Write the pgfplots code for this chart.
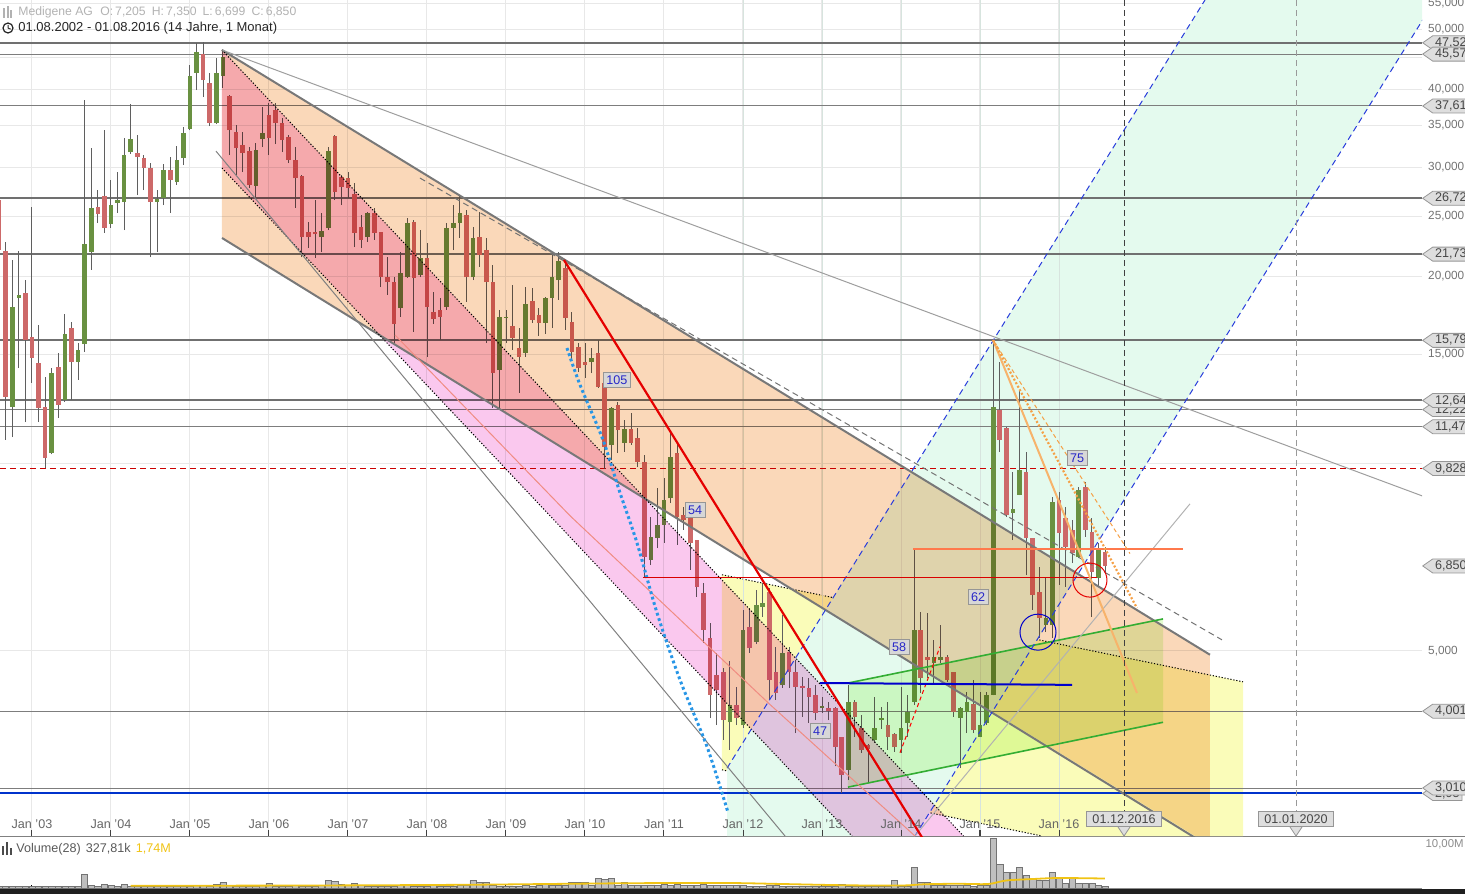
\documentclass[border=0pt]{standalone}
\usepackage{fontspec}
\setmainfont{Liberation Sans}
\usepackage{pgfplots}
\pgfplotsset{compat=1.18}
\usepackage{pgfplotstable}
\usetikzlibrary{shapes.symbols}

\definecolor{upc}{RGB}{105,145,65}
\definecolor{dnc}{RGB}{205,105,105}
\definecolor{wick}{RGB}{95,95,95}
\definecolor{peach}{RGB}{250,216,185}
\definecolor{pinkc}{RGB}{250,200,238}
\definecolor{mint}{RGB}{228,250,238}
\definecolor{yel}{RGB}{250,252,185}
\definecolor{lime}{RGB}{228,252,208}
\definecolor{lvl}{RGB}{112,112,112}
\definecolor{lvlt}{RGB}{125,125,125}
\definecolor{tagfill}{RGB}{222,222,222}
\definecolor{tagdraw}{RGB}{150,150,150}
\definecolor{tagtext}{RGB}{70,70,70}
\definecolor{numblue}{RGB}{40,40,200}
\definecolor{numfill}{RGB}{215,215,215}
\definecolor{dashblue}{RGB}{40,60,220}
\definecolor{lblue}{RGB}{40,150,230}
\definecolor{orng}{RGB}{245,160,70}
\definecolor{gridc}{RGB}{232,232,232}
\definecolor{gridz}{RGB}{215,228,222}
\definecolor{yline}{RGB}{240,195,20}
\definecolor{chan}{RGB}{120,120,120}
\definecolor{salmon}{RGB}{240,140,130}

\newcommand\tf{\fontsize{6.3}{7.5}\selectfont}

% monthly candles, up (close >= open)
\pgfplotstableread{
x o h l c
2002.750 12.35 21.26 11.04 17.87
2002.833 18.50 21.98 14.25 18.70
2003.250 10.41 14.25 10.35 13.99
2003.417 12.67 17.42 12.58 16.17
2003.583 14.58 15.63 13.64 15.24
2003.667 15.58 38.44 15.13 22.56
2003.750 21.90 32.18 20.49 25.78
2004.000 24.29 28.59 23.94 26.06
2004.083 26.26 29.45 25.31 26.55
2004.167 26.36 33.40 23.76 31.35
2004.250 31.70 37.87 31.50 33.27
2004.583 26.36 27.55 21.90 26.65
2004.667 26.75 30.34 26.06 29.67
2004.833 28.38 32.41 28.07 30.79
2004.917 31.00 34.78 30.22 34.02
2005.000 34.53 43.77 34.40 42.03
2005.083 42.50 47.55 39.90 45.90
2005.333 35.30 44.92 35.20 42.50
2005.417 42.03 46.27 40.20 45.09
2005.833 27.97 32.77 26.85 31.94
2005.917 33.27 37.46 32.30 34.02
2006.667 23.15 25.31 21.90 23.67
2006.750 23.94 32.30 23.76 31.82
2007.250 23.15 25.40 22.73 25.31
2007.667 17.80 21.90 17.22 20.26
2007.750 19.96 24.84 19.90 24.38
2007.917 20.11 23.76 19.96 21.42
2008.250 17.87 24.38 17.67 23.94
2008.333 23.94 26.06 22.06 24.38
2008.417 24.38 27.04 23.07 25.31
2008.583 19.96 24.02 19.74 23.07
2008.917 14.15 17.67 12.21 17.22
2009.000 17.16 17.67 15.63 17.22
2009.250 15.07 19.24 14.85 18.07
2009.500 16.84 18.55 16.17 18.48
2009.583 18.48 21.66 16.53 19.96
2009.667 19.74 21.90 18.34 21.18
2010.083 14.58 15.35 13.99 14.80
2010.333 10.72 12.35 10.14 12.30
2010.500 10.80 11.76 10.45 11.37
2010.833 7.00 8.21 6.87 7.62
2010.917 7.60 9.15 7.32 7.98
2011.000 7.98 9.49 7.46 8.74
2011.083 8.80 11.25 8.64 10.25
2011.833 3.84 4.81 3.47 4.09
2012.000 3.80 5.82 3.76 5.40
2012.167 5.17 6.27 5.13 5.93
2012.250 5.89 6.43 5.67 5.98
2012.500 4.41 5.71 4.36 4.97
2013.000 4.05 4.22 3.98 4.08
2013.333 3.22 4.41 3.10 4.14
2013.667 3.60 4.22 3.56 3.76
2013.750 3.87 4.06 3.75 3.90
2014.000 3.60 4.38 3.43 3.76
2014.083 3.83 4.25 3.64 3.99
2014.167 4.14 7.27 4.09 5.40
2014.417 4.79 5.21 4.44 4.89
2014.500 4.84 5.50 4.79 4.89
2014.750 3.90 4.06 3.24 4.05
2014.833 3.99 4.30 3.69 4.14
2015.000 3.64 4.30 3.63 3.80
2015.083 3.83 4.30 3.80 4.25
2015.167 4.25 15.70 4.24 12.35
2015.417 8.33 9.70 7.54 8.46
2015.500 8.91 13.14 8.90 9.77
2015.833 5.50 6.57 5.36 5.65
2015.917 5.50 8.84 5.25 8.67
2016.250 7.08 9.18 7.05 9.08
2016.500 6.55 7.46 6.34 7.32
}\candup

% monthly candles, down (close < open)
\pgfplotstableread{
x o h l c
2002.583 26.55 28.90 18.34 22.06
2002.667 21.98 22.73 10.92 12.81
2002.917 18.82 19.74 11.67 15.81
2003.000 15.99 25.87 13.49 14.80
2003.083 14.53 16.72 11.67 12.30
2003.167 12.35 13.79 9.83 10.22
2003.333 14.31 15.07 11.85 12.44
2003.500 16.53 16.90 12.67 14.58
2003.833 25.87 27.55 24.38 25.21
2003.917 26.96 34.40 23.50 23.94
2004.333 31.59 33.76 27.04 31.12
2004.417 31.00 31.35 27.55 29.89
2004.500 29.89 30.45 21.50 26.36
2004.750 29.67 31.12 25.31 28.59
2005.167 45.56 47.73 38.86 41.40
2005.250 40.94 42.50 34.91 35.30
2005.500 39.02 39.10 31.35 34.40
2005.583 34.15 35.04 29.13 32.18
2005.667 32.53 34.15 29.45 31.59
2005.750 31.82 32.30 27.76 28.07
2006.000 36.37 38.01 31.35 33.40
2006.083 37.05 38.01 32.65 35.30
2006.167 35.30 35.97 31.70 33.15
2006.250 33.52 33.76 30.45 30.79
2006.333 30.79 32.30 25.78 28.80
2006.417 29.02 29.13 21.50 23.15
2006.500 23.59 24.47 22.23 23.15
2006.583 23.59 26.55 21.42 23.41
2006.833 33.64 33.76 26.55 27.35
2006.917 28.91 29.13 26.06 27.86
2007.000 28.80 29.45 26.75 27.76
2007.083 27.14 28.28 22.31 23.50
2007.167 24.02 25.12 22.23 22.90
2007.333 25.31 25.78 22.90 23.50
2007.417 23.59 23.60 19.24 19.96
2007.500 19.96 21.50 18.68 19.60
2007.583 19.60 19.96 15.63 16.78
2007.833 24.47 24.65 16.29 19.89
2008.000 21.42 22.65 14.85 17.87
2008.083 17.54 18.89 16.78 17.09
2008.167 17.67 18.48 15.81 17.22
2008.500 25.12 25.59 18.21 19.96
2008.667 23.15 25.40 20.72 21.66
2008.750 22.06 23.07 15.63 19.60
2008.833 19.60 20.87 12.30 13.99
2009.083 16.66 19.39 15.24 15.93
2009.167 15.35 16.53 13.00 14.85
2009.333 18.27 19.17 16.84 17.03
2009.417 17.35 17.80 16.05 16.84
2009.750 20.64 21.26 16.41 17.16
2009.833 16.90 17.54 14.69 15.13
2009.917 15.41 15.63 14.04 14.25
2010.000 14.58 15.63 13.74 14.42
2010.167 15.07 15.81 13.24 13.29
2010.250 13.49 13.50 9.80 10.64
2010.417 12.44 12.58 10.41 11.33
2010.583 11.37 12.08 10.72 10.80
2010.667 11.00 11.43 9.87 10.07
2010.750 10.07 10.33 6.57 7.08
2011.167 10.41 10.80 7.41 8.21
2011.250 8.27 8.52 7.83 8.12
2011.333 8.18 8.52 6.75 7.46
2011.417 7.54 7.55 6.11 6.34
2011.500 6.20 6.43 5.15 5.40
2011.583 5.25 5.55 3.90 4.25
2011.667 4.58 4.97 3.80 4.33
2011.750 4.62 4.70 3.60 3.87
2011.917 4.09 4.38 3.80 3.90
2012.083 5.46 5.86 4.97 5.06
2012.333 6.22 6.32 4.17 4.49
2012.417 4.62 5.08 4.17 4.28
2012.583 4.98 5.08 4.36 4.62
2012.667 4.63 4.84 3.69 4.38
2012.750 4.39 4.54 3.92 4.36
2012.833 4.36 4.52 3.83 4.22
2012.917 4.25 4.41 3.87 3.98
2013.083 4.05 4.14 3.87 4.00
2013.167 4.05 4.06 3.26 3.51
2013.250 3.63 3.64 2.96 3.16
2013.417 4.14 4.17 3.64 3.92
2013.500 3.76 3.94 3.43 3.47
2013.583 3.53 3.54 3.07 3.48
2013.833 3.80 4.14 3.47 3.64
2013.917 3.67 3.69 3.44 3.50
2014.250 5.40 5.78 4.28 4.52
2014.333 4.89 5.76 4.52 4.84
2014.583 4.89 4.93 4.46 4.49
2014.667 4.62 4.63 3.92 3.99
2014.917 4.11 4.49 3.69 3.73
2015.250 12.21 14.58 10.45 10.92
2015.333 11.41 11.45 8.21 8.27
2015.583 9.70 10.45 6.62 7.60
2015.667 7.60 7.61 5.82 6.16
2015.750 6.22 6.82 5.25 5.65
2016.000 8.74 9.01 6.39 7.74
2016.083 8.18 8.52 6.34 7.35
2016.167 7.83 8.12 6.92 7.19
2016.333 9.18 9.35 7.63 7.83
2016.417 7.77 8.18 5.67 6.70
2016.583 7.205 7.35 6.699 6.85
}\canddn

% monthly volume in millions
\pgfplotstableread{
x v
2002.583 0.3
2002.667 0.4
2002.750 0.4
2002.833 0.3
2002.917 0.4
2003.000 0.4
2003.083 0.3
2003.167 0.4
2003.250 0.4
2003.333 0.3
2003.417 0.4
2003.500 0.4
2003.583 0.4
2003.667 2.7
2003.750 0.6
2003.833 0.3
2003.917 0.8
2004.000 0.5
2004.083 0.4
2004.167 0.8
2004.250 0.3
2004.333 0.3
2004.417 0.3
2004.500 0.3
2004.583 0.3
2004.667 0.3
2004.750 0.4
2004.833 0.4
2004.917 0.4
2005.000 0.3
2005.083 0.5
2005.167 0.5
2005.250 0.4
2005.333 0.8
2005.417 1.2
2005.500 0.5
2005.583 0.4
2005.667 0.4
2005.750 0.4
2005.833 0.3
2005.917 0.5
2006.000 1.0
2006.083 0.4
2006.167 0.4
2006.250 0.3
2006.333 0.5
2006.417 0.4
2006.500 0.4
2006.583 0.3
2006.667 0.5
2006.750 1.5
2006.833 1.3
2006.917 0.8
2007.000 0.6
2007.083 1.0
2007.167 0.5
2007.250 0.4
2007.333 0.4
2007.417 0.4
2007.500 0.4
2007.583 0.4
2007.667 0.5
2007.750 0.6
2007.833 0.4
2007.917 0.4
2008.000 0.4
2008.083 0.5
2008.167 0.4
2008.250 0.4
2008.333 0.4
2008.417 0.6
2008.500 0.5
2008.583 1.5
2008.667 1.1
2008.750 1.1
2008.833 0.5
2008.917 0.4
2009.000 0.4
2009.083 0.4
2009.167 0.4
2009.250 0.5
2009.333 0.4
2009.417 0.6
2009.500 1.0
2009.583 0.5
2009.667 0.5
2009.750 0.6
2009.833 1.2
2009.917 1.2
2010.000 1.2
2010.083 0.5
2010.167 2.0
2010.250 1.7
2010.333 2.0
2010.417 0.6
2010.500 1.2
2010.583 0.6
2010.667 0.6
2010.750 0.6
2010.833 0.6
2010.917 0.6
2011.000 0.7
2011.083 0.6
2011.167 0.7
2011.250 0.6
2011.333 0.5
2011.417 0.6
2011.500 0.7
2011.583 0.6
2011.667 0.5
2011.750 0.6
2011.833 0.6
2011.917 0.5
2012.000 0.6
2012.083 0.4
2012.167 0.4
2012.250 0.4
2012.333 0.5
2012.417 0.5
2012.500 0.3
2012.583 0.3
2012.667 0.4
2012.750 0.3
2012.833 0.3
2012.917 0.3
2013.000 0.3
2013.083 0.3
2013.167 0.3
2013.250 0.8
2013.333 0.4
2013.417 0.3
2013.500 0.3
2013.583 0.3
2013.667 0.3
2013.750 0.3
2013.833 0.3
2013.917 1.5
2014.000 0.3
2014.083 0.3
2014.167 4.2
2014.250 1.2
2014.333 1.2
2014.417 0.5
2014.500 0.5
2014.583 0.5
2014.667 0.5
2014.750 0.5
2014.833 0.5
2014.917 0.4
2015.000 0.5
2015.083 0.5
2015.167 10.0
2015.250 4.7
2015.333 3.2
2015.417 3.2
2015.500 4.1
2015.583 2.5
2015.667 1.9
2015.750 1.5
2015.833 1.5
2015.917 3.2
2016.000 2.1
2016.083 1.0
2016.167 1.9
2016.250 1.0
2016.333 1.0
2016.417 1.0
2016.500 0.5
2016.583 0.35
}\voltab

\tikzset{
 lvltag/.style={shape=signal, signal to=west, signal pointer angle=70, fill=tagfill, draw=tagdraw,
   line width=0.4pt, text=tagtext, font=\tf, inner xsep=1.2pt, inner ysep=0.6pt, minimum height=7pt, anchor=west},
 numtag/.style={fill=numfill, draw=tagdraw, text=numblue, font=\tf, inner xsep=1.5pt, inner ysep=1.4pt, line width=0.4pt},
 datetag/.style={fill=tagfill, draw=tagdraw, text=tagtext, font=\tf, inner xsep=3pt, inner ysep=1.6pt, line width=0.4pt, anchor=south},
 xtl/.style={anchor=base, font=\tf, text=black!60, inner sep=0pt},
}

\begin{document}
\begin{tikzpicture}
\begin{axis}[
  name=main, at={(0pt,0pt)}, anchor=north west,
  scale only axis, width=711pt, height=418pt,
  xmin=2002.595, xmax=2020.595,
  ymode=log, ymin=2.52, ymax=55.68,
  clip mode=individual,
  axis x line*=bottom, axis y line*=right,
  x axis line style={draw=black!50, line width=0.5pt, -},
  y axis line style={draw=none},
  tick align=inside, major tick length=3pt,
  xtick style={draw=black!75, line width=0.5pt},
  ytick style={draw=none},
  xtick={2003,...,2016}, xticklabels={},
  ytick={3,4,5,10,15,20,25,30,35,40,45,50,55},
  yticklabels={,,{5,000},,{15,000},{20,000},{25,000},{30,000},{35,000},{40,000},,{50,000},{55,000}},
  xmajorgrids, ymajorgrids, grid style={gridc, line width=0.5pt},
  yticklabel style={anchor=west, xshift=2.6pt, inner xsep=0.3pt, font=\fontsize{5.9}{7}\selectfont, text=black!55},
]
% yellow zone with its dotted borders, then the mint pitchfork zone over it
\addplot[draw=none, fill=yel] coordinates {(2011.734,6.63) (2018.329,4.46) (2018.329,2.52) (2015.785,2.52) (2011.734,3.22)};
\addplot[black, line width=0.5pt, dash pattern=on 0.6pt off 0.9pt] coordinates {(2011.734,6.63) (2018.329,4.46)};
\addplot[black, line width=0.5pt, dash pattern=on 0.6pt off 0.9pt] coordinates {(2011.734,3.22) (2015.785,2.52)};
\addplot[draw=none, fill=mint] coordinates {(2011.798,2.52) (2011.798,3.24) (2017.848,55.68) (2020.595,55.68) (2020.595,51.5) (2014.177,2.52)};
% grid lines visible through the zones
\addplot[gridz, line width=0.4pt] coordinates {(2012,2.52) (2012,55.68)};
\addplot[gridz, line width=0.4pt] coordinates {(2013,2.52) (2013,55.68)};
\addplot[gridz, line width=0.4pt] coordinates {(2014,2.52) (2014,55.68)};
\addplot[gridz, line width=0.4pt] coordinates {(2015,2.52) (2015,55.68)};
\addplot[gridz, line width=0.4pt] coordinates {(2016,2.52) (2016,55.68)};

% horizontal levels
\addplot[lvl, line width=1pt] coordinates {(2002.595,47.52) (2020.595,47.52)};
\addplot[lvlt, line width=0.5pt] coordinates {(2002.595,45.57) (2020.595,45.57)};
\addplot[lvlt, line width=0.5pt] coordinates {(2002.595,37.61) (2020.595,37.61)};
\addplot[lvl, line width=1pt] coordinates {(2002.595,26.72) (2020.595,26.72)};
\addplot[lvl, line width=1pt] coordinates {(2002.595,21.73) (2020.595,21.73)};
\addplot[lvl, line width=1pt] coordinates {(2002.595,15.79) (2020.595,15.79)};
\addplot[lvl, line width=1pt] coordinates {(2002.595,12.64) (2020.595,12.64)};
\addplot[lvlt, line width=0.5pt] coordinates {(2002.595,12.22) (2020.595,12.22)};
\addplot[lvlt, line width=0.5pt] coordinates {(2002.595,11.47) (2020.595,11.47)};
\addplot[red!80!black, line width=0.5pt, dash pattern=on 3pt off 2pt] coordinates {(2002.595,9.828) (2020.595,9.828)};
\addplot[lvlt, line width=0.5pt] coordinates {(2002.595,4.001) (2020.595,4.001)};
\addplot[lvlt, line width=0.5pt] coordinates {(2002.595,3.010) (2020.595,3.010)};
\addplot[blue!75!cyan!80!black, line width=1pt] coordinates {(2002.595,2.95) (2020.595,2.95)};

% candles
\addplot[draw=none, mark=none, error bars/.cd, y dir=plus, y explicit, error mark=none,
  error bar style={draw=wick, line width=0.5pt, solid}]
  table[x=x, y=l, y error expr=\thisrow{h}-\thisrow{l}] {\candup};
\addplot[draw=none, mark=none, error bars/.cd, y dir=plus, y explicit, error mark=none,
  error bar style={draw=wick, line width=0.5pt, solid}]
  table[x=x, y=l, y error expr=\thisrow{h}-\thisrow{l}] {\canddn};
\addplot[draw=none, mark=none, error bars/.cd, y dir=plus, y explicit, error mark=none,
  error bar style={draw=upc, line width=2.3pt, solid}]
  table[x=x, y=o, y error expr=\thisrow{c}-\thisrow{o}] {\candup};
\addplot[draw=none, mark=none, error bars/.cd, y dir=plus, y explicit, error mark=none,
  error bar style={draw=dnc, line width=2.3pt, solid}]
  table[x=x, y=c, y error expr=\thisrow{o}-\thisrow{c}] {\canddn};

% translucent channels (multiply)
\addplot[draw=none, fill=peach, blend mode=multiply] coordinates {(2005.405,46.27) (2017.911,4.93) (2017.911,2.52) (2017.722,2.52) (2005.405,23.07)};
\addplot[draw=none, fill=pinkc, blend mode=multiply] coordinates {(2005.405,46.27) (2014.791,2.52) (2013.380,2.52) (2005.405,29.89)};
\addplot[draw=none, fill=lime, blend mode=multiply] coordinates {(2013.329,4.44) (2017.317,5.63) (2017.317,3.84) (2013.329,3.02)};

% channel lines
\addplot[chan, line width=1pt] coordinates {(2005.405,46.27) (2017.911,4.93)};
\addplot[chan, line width=1pt] coordinates {(2005.405,23.07) (2017.911,2.42)};
\addplot[black, line width=0.5pt, dash pattern=on 0.6pt off 0.9pt] coordinates {(2005.405,46.27) (2014.791,2.52)};
\addplot[black, line width=0.5pt, dash pattern=on 0.6pt off 0.9pt] coordinates {(2005.405,29.89) (2013.380,2.52)};
\addplot[green!60!black!80, line width=0.8pt] coordinates {(2013.329,4.44) (2017.317,5.63)};
\addplot[green!60!black!80, line width=0.8pt] coordinates {(2013.329,3.02) (2017.317,3.84)};

% pitchfork lines
\addplot[dashblue, line width=0.5pt, dash pattern=on 3pt off 2pt] coordinates {(2011.798,3.24) (2017.848,55.68)};
\addplot[dashblue, line width=0.5pt, dash pattern=on 3pt off 2pt] coordinates {(2014.177,2.52) (2020.760,55.68)};

% grey trend lines
\addplot[black!38, line width=0.5pt] coordinates {(2005.405,46.27) (2021.139,8.37)};
\addplot[black!50, line width=0.5pt] coordinates {(2005.329,31.82) (2012.532,2.52)};
\addplot[black!30, line width=0.5pt] coordinates {(2014.177,2.52) (2017.658,8.62)};
\addplot[black!55, line width=0.5pt, dash pattern=on 3pt off 2pt] coordinates {(2007.911,28.80) (2018.063,5.21)};
\addplot[salmon, line width=0.5pt] coordinates {(2007.595,16.11) (2009.810,8.25) (2012.342,4.10) (2014.177,2.52)};

% light blue dotted curve
\addplot[lblue, line width=1.5pt, dash pattern=on 1.4pt off 1.4pt, smooth] coordinates {(2009.772,15.35) (2009.937,13.39) (2010.228,10.92) (2010.443,8.98) (2010.658,7.46) (2010.911,5.76) (2011.203,4.49) (2011.544,3.51) (2011.810,2.75)};

% red lines
\addplot[red!90!black, line width=1.1pt] coordinates {(2009.734,21.26) (2014.365,2.393)};
\addplot[red!85!black, line width=0.5pt] coordinates {(2010.734,6.57) (2016.481,6.57)};
\addplot[red!50!orange!70, line width=0.8pt] coordinates {(2014.152,7.30) (2017.570,7.30)};
\addplot[red, line width=0.5pt, dash pattern=on 2pt off 1.5pt] coordinates {(2013.987,3.43) (2014.494,5.08)};
\addplot[blue!80!black, line width=1pt] coordinates {(2012.975,4.44) (2016.165,4.41)};

% orange lines from the 2015 peak
\addplot[orng!80, line width=1pt] coordinates {(2015.165,15.81) (2016.987,4.28)};
\addplot[orng, line width=1.1pt, dash pattern=on 1pt off 1pt] coordinates {(2015.165,15.81) (2016.987,5.86)};
\addplot[orng, line width=0.5pt, dash pattern=on 2pt off 1.5pt] coordinates {(2015.165,15.81) (2016.899,7.17)};

% circles
\addplot[only marks, mark=o, mark size=8.5pt, red!90!black, mark options={line width=0.5pt}] coordinates {(2016.392,6.50)};
\addplot[only marks, mark=o, mark size=9pt, blue!80!black, mark options={line width=0.5pt}] coordinates {(2015.734,5.36)};

% vertical date lines
\addplot[black!75, line width=0.5pt, dash pattern=on 3pt off 2pt] coordinates {(2016.823,2.52) (2016.823,55.68)};
\addplot[black!40, line width=0.5pt, dash pattern=on 3pt off 2pt] coordinates {(2019.000,2.52) (2019.000,55.68)};

% x tick labels and tick marks set on top of the zones
\node[xtl] at ([yshift=4pt]axis cs:2003,2.52) {Jan '03};
\node[xtl] at ([yshift=4pt]axis cs:2004,2.52) {Jan '04};
\node[xtl] at ([yshift=4pt]axis cs:2005,2.52) {Jan '05};
\node[xtl] at ([yshift=4pt]axis cs:2006,2.52) {Jan '06};
\node[xtl] at ([yshift=4pt]axis cs:2007,2.52) {Jan '07};
\node[xtl] at ([yshift=4pt]axis cs:2008,2.52) {Jan '08};
\node[xtl] at ([yshift=4pt]axis cs:2009,2.52) {Jan '09};
\node[xtl] at ([yshift=4pt]axis cs:2010,2.52) {Jan '10};
\node[xtl] at ([yshift=4pt]axis cs:2011,2.52) {Jan '11};
\node[xtl] at ([yshift=4pt]axis cs:2012,2.52) {Jan '12};
\node[xtl] at ([yshift=4pt]axis cs:2013,2.52) {Jan '13};
\node[xtl] at ([yshift=4pt]axis cs:2014,2.52) {Jan '14};
\node[xtl] at ([yshift=4pt]axis cs:2015,2.52) {Jan '15};
\node[xtl] at ([yshift=4pt]axis cs:2016,2.52) {Jan '16};
\draw[black!75, line width=0.5pt] (axis cs:2012,2.52) -- ([yshift=3pt]axis cs:2012,2.52);
\draw[black!75, line width=0.5pt] (axis cs:2013,2.52) -- ([yshift=3pt]axis cs:2013,2.52);
\draw[black!75, line width=0.5pt] (axis cs:2014,2.52) -- ([yshift=3pt]axis cs:2014,2.52);
\draw[black!75, line width=0.5pt] (axis cs:2015,2.52) -- ([yshift=3pt]axis cs:2015,2.52);
\draw[black!75, line width=0.5pt] (axis cs:2016,2.52) -- ([yshift=3pt]axis cs:2016,2.52);

% count labels
\node[numtag] at (axis cs:2010.405,13.64) {105};
\node[numtag] at (axis cs:2011.393,8.43) {54};
\node[numtag] at (axis cs:2012.975,3.72) {47};
\node[numtag] at (axis cs:2013.975,5.08) {58};
\node[numtag] at (axis cs:2014.975,6.11) {62};
\node[numtag] at (axis cs:2016.228,10.22) {75};

% date tags
\fill[tagfill, draw=tagdraw, line width=0.4pt] ([xshift=-3pt,yshift=4.5pt]axis cs:2016.823,2.52) -- (axis cs:2016.823,2.52) -- ([xshift=3pt,yshift=4.5pt]axis cs:2016.823,2.52);
\node[datetag] at ([yshift=4.5pt]axis cs:2016.823,2.52) {01.12.2016};
\fill[tagfill, draw=tagdraw, line width=0.4pt] ([xshift=-3pt,yshift=4.5pt]axis cs:2019.000,2.52) -- (axis cs:2019.000,2.52) -- ([xshift=3pt,yshift=4.5pt]axis cs:2019.000,2.52);
\node[datetag] at ([yshift=4.5pt]axis cs:2019.000,2.52) {01.01.2020};

% price tags on the right (only the visible part of each value, as in the original)
\node[lvltag] at (axis cs:2020.595,47.52) {47,52\hspace{8pt}};
\node[lvltag] at (axis cs:2020.595,45.57) {45,57\hspace{8pt}};
\node[lvltag] at (axis cs:2020.595,37.61) {37,61\hspace{8pt}};
\node[lvltag] at (axis cs:2020.595,26.72) {26,72\hspace{8pt}};
\node[lvltag] at (axis cs:2020.595,21.73) {21,73\hspace{8pt}};
\node[lvltag] at (axis cs:2020.595,15.79) {15,79\hspace{8pt}};
\node[lvltag] at (axis cs:2020.595,12.22) {12,22\hspace{8pt}};
\node[lvltag] at (axis cs:2020.595,12.64) {12,64\hspace{8pt}};
\node[lvltag] at (axis cs:2020.595,11.47) {11,47\hspace{8pt}};
\node[lvltag] at (axis cs:2020.595,9.828) {9,828\hspace{8pt}};
\node[lvltag] at (axis cs:2020.595,6.85) {6,850\hspace{8pt}};
\node[lvltag] at (axis cs:2020.595,4.001) {4,001\hspace{8pt}};
\node[lvltag] at (axis cs:2020.595,2.95) {2,95\hspace{8pt}};
\node[lvltag] at (axis cs:2020.595,3.010) {3,010\hspace{8pt}};
\end{axis}

\begin{axis}[
  at={(0pt,-419pt)}, anchor=north west,
  scale only axis, width=711pt, height=25pt,
  xmin=2002.595, xmax=2020.595, ymin=0, ymax=10,
  clip mode=individual,
  axis x line*=bottom, axis y line=none,
  x axis line style={draw=black!45, line width=0.5pt, -},
  xtick={2003,...,2016}, xticklabels={},
  tick align=center, major tick length=3pt,
  xtick style={draw=black, line width=0.5pt},
]
\addplot[ybar, bar width=3.1pt, fill=black!25, draw=black!55, line width=0.3pt] table[x=x, y=v] {\voltab};
\addplot[yline, line width=0.9pt, smooth] coordinates {(2004.25,0.45) (2006.5,0.5) (2008.5,0.65) (2010.5,0.95) (2011.8,1.0) (2012.5,0.8) (2013.3,0.55) (2014.0,0.5) (2014.3,0.75) (2014.7,0.85) (2015.1,0.8) (2015.33,1.5) (2015.67,1.8) (2016.0,2.0) (2016.58,1.9)};
\end{axis}

% header texts and icons
\fill[black!30] (1.5pt,-9pt) rectangle (2.5pt,-4pt);
\fill[black!30] (3.3pt,-9pt) rectangle (4.3pt,-3pt);
\fill[black!30] (5.1pt,-9pt) rectangle (6.1pt,-5pt);
\node[anchor=west, inner sep=0pt, font=\fontsize{6.1}{7}\selectfont, text=black!30] at (9pt,-6pt) {Medigene AG\hspace{0.6em}O:\,7,205\hspace{0.5em}H:\,7,350\hspace{0.5em}L:\,6,699\hspace{0.5em}C:\,6,850};
\draw[black!85, line width=0.6pt] (4pt,-14pt) circle (2.5pt);
\draw[black!85, line width=0.5pt] (4pt,-12.4pt) -- (4pt,-14pt) -- (5.3pt,-14.6pt);
\node[anchor=west, inner sep=0pt, font=\fontsize{6.5}{7.5}\selectfont, text=black!85] at (9pt,-14pt) {01.08.2002 - 01.08.2016 (14 Jahre, 1 Monat)};

% right end of the axis line and volume panel label
\draw[black!50, line width=0.5pt] (711pt,-418pt) -- (732.5pt,-418pt);
\node[anchor=north east, inner sep=0pt, font=\fontsize{5.7}{7}\selectfont, text=black!45] at (732pt,-419.5pt) {10,00M};
\fill[black!70] (1.2pt,-427.5pt) rectangle (2.2pt,-423pt);
\fill[black!70] (3pt,-427.5pt) rectangle (4pt,-421pt);
\fill[black!70] (4.8pt,-427.5pt) rectangle (5.8pt,-424pt);
\node[anchor=west, inner sep=0pt, font=\tf, text=black!65] at (8pt,-424.5pt) {Volume(28)\hspace{0.4em}327,81k\hspace{0.4em}\textcolor{yline}{1,74M}};
\fill[black!88] (0pt,-444.5pt) rectangle (732.5pt,-447pt);

\pgfresetboundingbox
\path[use as bounding box] (0pt,0pt) rectangle (732.5pt,-447pt);
\end{tikzpicture}
\end{document}
